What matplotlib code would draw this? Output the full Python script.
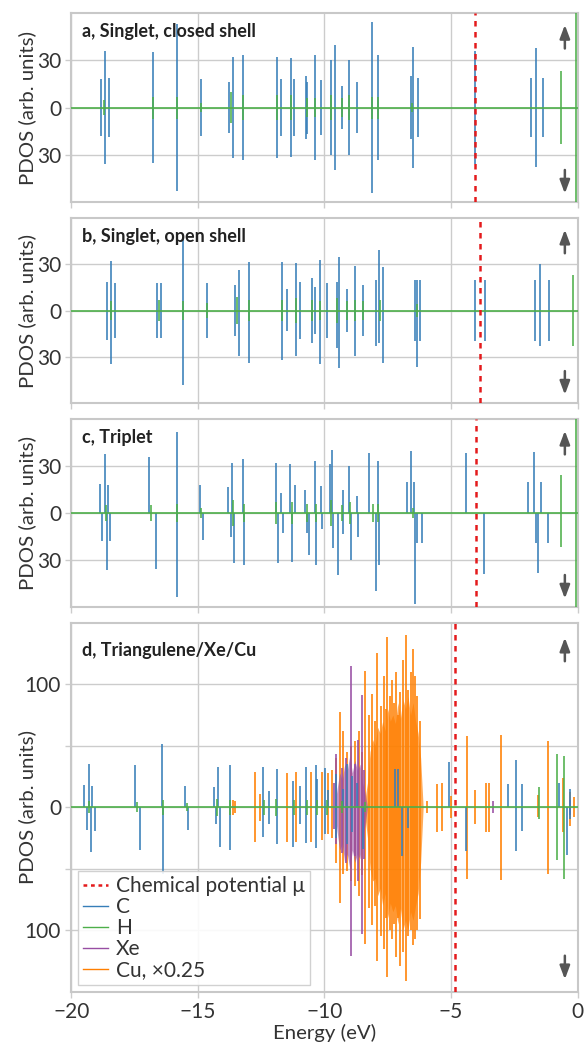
import numpy as np
import matplotlib.pyplot as plt

plt.rcParams['font.family'] = ['Lato', 'DejaVu Sans']
plt.rcParams['axes.unicode_minus'] = True

BLUE = '#377eb8'
GREEN = '#4daf4a'
PURPLE = '#984ea3'
ORANGE = '#ff7f00'
RED = '#e41a1c'
GRID = '#cccccc'
TXT = '#333333'

# chemical potentials (eV)
mu = [-4.05, -3.87, -4.02, -4.84]

# ---- a, singlet closed shell (spin up = spin down)
a_C_E = [-18.83, -18.68, -18.53, -16.79, -15.83, -14.88, -13.76, -13.62, -13.22, -11.89,
         -11.73, -11.34, -11.19, -10.73, -10.68, -10.36, -10.15, -9.76, -9.60, -9.30,
         -9.02, -8.73, -8.11, -7.87, -6.58, -6.52, -6.29, -4.05, -1.85, -1.65, -1.35]
a_C_h = [18, 36, 18.5, 35, 53, 18, 16, 32, 33.5, 32,
         18, 31.5, 18, 20, 16.5, 33.5, 17.5, 30, 39.5, 13.5,
         30, 16, 54, 33.5, 20, 38.5, 19, 36, 19, 38, 19]
a_H_E = [-18.7, -16.79, -15.83, -14.88, -13.68, -13.22, -11.89, -11.34, -10.7, -10.36,
         -9.76, -9.3, -9.02, -8.11, -7.87, -6.55, -0.65, -0.06]
a_H_h = [5, 7, 7, 3, 10, 8, 8, 8, 6, 6, 8, 6, 8, 7, 7, 3, 23, 75]

# ---- b, singlet open shell
b_C_E = [-18.59, -18.43, -18.29, -16.64, -16.46, -15.61, -14.63, -13.54, -13.39, -12.98,
         -11.68, -11.49, -11.12, -10.97, -10.49, -10.37, -10.17, -9.90, -9.52, -9.41,
         -9.10, -8.81, -8.48, -7.97, -7.86, -7.68, -6.43, -6.36, -6.22, -4.05,
         -3.65, -1.68, -1.49, -1.13]
b_C_up = [18.5, 32, 18, 18, 18, 46.5, 18, 16.5, 26, 31.5,
          31.5, 14, 31, 18.5, 21, 15.5, 33, 18, 18.5, 35,
          14, 29, 16.5, 19.5, 39, 28, 19.5, 19.5, 19.5, 19.5,
          19.5, 19.5, 30, 19.5]
b_C_dn = [19, 35, 18, 18, 18, 48, 18, 16.5, 29.5, 34,
          32, 13.5, 29.5, 18.5, 21, 15.5, 34.5, 18, 24, 37.5,
          14, 29.5, 16.5, 23, 21, 34, 19.5, 36.5, 19.5, 20,
          19.5, 19.5, 23, 19.5]
b_H_E = [-18.43, -16.55, -15.61, -14.63, -13.45, -12.98, -11.68, -11.12, -10.49, -10.17,
         -9.52, -9.10, -8.81, -8.48, -7.80, -6.35, -0.17]
b_H_h = [6, 7, 6, 5, 9, 7, 7, 8, 7, 6, 8, 6, 7, 6, 7, 4, 23]

# ---- c, triplet
c_C_upE = [-18.89, -18.69, -18.57, -16.92, -15.84, -14.93, -13.80, -13.64, -13.23, -11.93,
           -11.73, -11.36, -11.17, -10.77, -10.38, -10.15, -9.78, -9.70, -9.28, -9.03,
           -8.70, -8.24, -7.90, -6.73, -6.59, -6.46, -4.41, -1.97, -1.72, -1.46]
c_C_up = [18.5, 37.5, 18, 35.5, 52, 18, 16.5, 32, 34.5, 32,
          13, 31.5, 18, 14.5, 33.5, 17.5, 31, 40, 14.5, 30,
          11, 38.5, 33.5, 19.5, 39.5, 19.5, 38.5, 19.5, 39, 19.5]
c_C_dnE = [-18.78, -18.61, -18.47, -16.67, -15.82, -14.82, -13.71, -13.56, -13.18, -11.85,
           -11.65, -11.27, -10.69, -10.63, -10.32, -10.11, -9.65, -9.48, -9.26, -8.97,
           -8.69, -7.96, -7.86, -6.42, -6.36, -6.13, -3.70, -1.64, -1.57, -1.15]
c_C_dn = [18, 36.5, 18, 35.5, 53.5, 17, 15, 32, 33.5, 32,
          12.5, 31, 13, 26.5, 33.5, 10.5, 22.5, 39.5, 13.5, 30,
          15, 50, 33, 58, 19, 19, 39, 19, 38.5, 19]
c_H_E = [-18.65, -16.85, -15.83, -14.88, -13.6, -13.2, -11.9, -11.3, -10.7, -10.35,
         -9.75, -9.3, -9.0, -8.1, -7.9, -6.5, -0.65, -0.06]
c_H_up = [5, 5, 6, 3, 8, 6, 7, 7, 6, 6, 8, 5, 7, 6, 6, 3, 24, 75]
c_H_dn = [5, 5, 6, 3, 8, 6, 7, 7, 6, 6, 8, 5, 7, 6, 6, 3, 22, 75]

# ---- d, triangulene/Xe/Cu
d_C_upE = [-19.49, -19.30, -19.20, -17.50, -16.42, -15.50, -14.37, -14.22, -13.75, -12.42,
           -12.21, -11.87, -11.24, -10.97, -10.73, -10.35, -10.28, -9.98, -9.86, -9.55,
           -9.27, -9.10, -8.90, -8.72, -7.22, -7.10, -5.08, -2.74, -2.45, -2.20,
           -0.75, -0.30]
d_C_up = [18, 35.5, 17.5, 34.5, 51, 17.5, 16, 32.5, 34, 32.5,
          13.5, 31, 21.5, 17.5, 33, 34.5, 23, 32, 14, 27,
          15, 35, 25, 20, 31, 31, 37, 19, 38, 19,
          20, 15]
d_C_dnE = [-19.37, -19.23, -19.07, -17.28, -16.38, -15.38, -14.28, -14.13, -13.75, -12.42,
           -12.21, -11.87, -11.24, -10.97, -10.73, -10.35, -9.98, -9.55, -9.10, -8.90,
           -8.48, -6.95, -6.70, -4.40, -2.45, -2.20, -0.43, -0.30]
d_C_dn = [18.5, 36.5, 19, 35, 54, 18.5, 13.5, 32, 35, 24,
          13.5, 30, 32, 13.5, 29, 33, 22, 25, 30, 20,
          34, 40, 17, 36, 36, 19, 39, 10]
d_H_E = [-19.3, -17.4, -16.4, -15.45, -14.25, -13.75, -12.4, -11.9, -11.2, -10.7,
         -10.3, -9.9, -9.3, -8.4, -1.52, -0.82, -0.55]
d_H_up = [5, 4, 6, 3, 7, 6, 6, 7, 6, 6, 6, 6, 5, 4, 16, 43, 42]
d_H_dn = [5, 4, 6, 3, 7, 6, 6, 7, 6, 6, 6, 6, 5, 4, 10, 43, 58]
d_Xe_E = [-9.62, -9.55, -9.32, -9.15, -8.95, -8.81, -8.68, -8.50, -8.43, -3.35, -0.30]
d_Xe_up = [20, 43, 32, 40, 115, 35, 55, 91, 30, 5, 6]
d_Xe_dn = [18, 30, 37, 45, 121, 40, 60, 103, 42, 5, 6]
d_Xe_fillE = [-9.6, -9.5, -9.4, -9.3, -9.2, -9.1, -9.0, -8.9, -8.8, -8.7, -8.6, -8.5, -8.4, -8.3]
d_Xe_fillup = [0, 15, 28, 22, 35, 30, 42, 28, 38, 30, 35, 20, 12, 0]
d_Xe_filldn = [0, 20, 35, 30, 45, 38, 50, 35, 45, 38, 42, 25, 15, 0]
d_Cu_E = [-13.62, -13.55, -12.75, -12.55, -11.50, -11.14, -10.55, -10.11, -9.88, -9.72,
          -9.55, -9.39, -9.25, -9.10, -8.95, -8.80, -8.65, -8.52, -8.39, -8.25,
          -8.12, -8.02, -7.92, -7.78, -7.65, -7.58, -7.51, -7.42, -7.35, -7.25,
          -7.18, -7.08, -7.00, -6.90, -6.76, -6.68, -6.60, -6.52, -6.43, -6.35,
          -6.24, -5.93, -5.55, -5.36, -5.00, -4.35, -4.05, -3.62, -3.50, -3.03,
          -1.55, -1.15, -0.56, -0.30, -0.12]
d_Cu_up = [6, 5, 28.5, 11, 27.5, 28.5, 28.5, 28.5, 28, 30,
           40, 77, 62, 45, 50, 54, 62, 45, 111, 75,
           92, 70, 125, 82, 107, 80, 138, 90, 103, 85,
           110, 75, 94, 120, 140, 95, 110, 129, 107, 90,
           70, 5, 19, 20, 9, 58, 14, 20, 20, 59,
           10, 54, 24, 12, 8]
d_Cu_dn = [6, 5, 28.5, 11, 28, 28.5, 28.5, 27, 22, 25,
           45, 78, 54, 52, 60, 64, 72, 55, 111, 82,
           96, 80, 125, 105, 115, 90, 138, 100, 107, 95,
           122, 90, 129, 118, 141, 105, 100, 112, 107, 100,
           91, 5, 20, 19, 9, 58, 14, 20, 20, 59,
           8, 54, 20, 15, 8]
d_Cu_fillE = [-8.45, -8.3, -8.2, -8.1, -8.0, -7.9, -7.8, -7.7, -7.6, -7.5, -7.4, -7.3,
              -7.2, -7.1, -7.0, -6.9, -6.8, -6.7, -6.6, -6.5, -6.4, -6.3, -6.2, -6.1]
d_Cu_fillup = [0, 20, 45, 55, 50, 65, 60, 70, 62, 80, 70, 75,
               68, 85, 72, 88, 80, 90, 75, 85, 70, 60, 40, 0]
d_Cu_filldn = [0, 25, 50, 60, 58, 72, 66, 80, 70, 90, 78, 85,
               80, 95, 82, 100, 92, 100, 85, 92, 80, 70, 45, 0]

titles = ['a, Singlet, closed shell', 'b, Singlet, open shell', 'c, Triplet',
          'd, Triangulene/Xe/Cu']


def spikes(ax, Eu, hu, Ed, hd, color, z, label=None):
    ax.vlines(Eu, 0, hu, color=color, lw=1.15, zorder=z, label=label)
    ax.vlines(Ed, -np.asarray(hd, float), 0, color=color, lw=1.15, zorder=z)


def style(ax, lim, ticks, labels):
    ax.set_xlim(-20, 0)
    ax.set_ylim(-lim, lim)
    ax.set_xticks([-20, -15, -10, -5, 0])
    ax.set_yticks(ticks)
    ax.set_yticklabels(labels)
    ax.grid(True, color=GRID, lw=1.0)
    ax.set_axisbelow(True)
    for s in ax.spines.values():
        s.set_color('#c8c8c8')
        s.set_linewidth(1.5)
    ax.tick_params(color=GRID, length=4, width=1.0, labelcolor=TXT, labelsize=15)
    ax.set_ylabel('PDOS (arb. units)', color=TXT, fontsize=14.7)
    ax.yaxis.set_label_coords(-0.07, 0.5)


def arrows(ax, top, bot):
    ap = dict(arrowstyle='-|>,head_width=0.3,head_length=0.8', color='#555555', lw=1.8)
    ax.annotate('', xy=(0.975, top), xycoords='axes fraction',
                xytext=(0, -21), textcoords='offset points', arrowprops=ap)
    ax.annotate('', xy=(0.975, bot), xycoords='axes fraction',
                xytext=(0, 21), textcoords='offset points', arrowprops=ap)


fig = plt.figure(figsize=(5.86, 10.43), dpi=100)
L, W = 0.122, 0.8635
ax_a = fig.add_axes([L, 0.8063, W, 0.1812])
ax_b = fig.add_axes([L, 0.6136, W, 0.1774])
ax_c = fig.add_axes([L, 0.4180, W, 0.1803])
ax_d = fig.add_axes([L, 0.0492, W, 0.3538])
axes = [ax_a, ax_b, ax_c, ax_d]

# a
spikes(ax_a, a_C_E, a_C_h, a_C_E, a_C_h, BLUE, 3)
spikes(ax_a, a_H_E, a_H_h, a_H_E, a_H_h, GREEN, 4)
# b
spikes(ax_b, b_C_E, b_C_up, b_C_E, b_C_dn, BLUE, 3)
spikes(ax_b, b_H_E, b_H_h, b_H_E, b_H_h, GREEN, 4)
# c
spikes(ax_c, c_C_upE, c_C_up, c_C_dnE, c_C_dn, BLUE, 3)
spikes(ax_c, c_H_E, c_H_up, c_H_E, c_H_dn, GREEN, 4)
# d
ax_d.fill_between(d_Cu_fillE, -np.array(d_Cu_filldn), d_Cu_fillup,
                  color=ORANGE, alpha=0.65, lw=0, zorder=1)
spikes(ax_d, d_Cu_E, d_Cu_up, d_Cu_E, d_Cu_dn, ORANGE, 2)
ax_d.fill_between(d_Xe_fillE, -np.array(d_Xe_filldn), d_Xe_fillup,
                  color=PURPLE, alpha=0.6, lw=0, zorder=2.5)
spikes(ax_d, d_Xe_E, d_Xe_up, d_Xe_E, d_Xe_dn, PURPLE, 2.6)
spikes(ax_d, d_C_upE, d_C_up, d_C_dnE, d_C_dn, BLUE, 3)
spikes(ax_d, d_H_E, d_H_up, d_H_E, d_H_dn, GREEN, 4)

for i, ax in enumerate(axes):
    ax.axhline(0, color=GREEN, lw=1.2, zorder=4)
    ax.axvline(mu[i], color=RED, ls=(0, (2.2, 2.2)), lw=1.8, zorder=6)
    ax.text(0.02, 0.948, titles[i], transform=ax.transAxes, ha='left', va='top',
            fontsize=13, fontweight='bold', color='#222222', zorder=7)
    if i < 3:
        style(ax, 60, [-30, 0, 30], ['30', '0', '30'])
        ax.tick_params(labelbottom=False)
        arrows(ax, 0.952, 0.03)
    else:
        style(ax, 150, [-100, -50, 0, 50, 100], ['100', '', '0', '', '100'])
        arrows(ax, 0.967, 0.026)

ax_d.text(0.02, 0.974, '', transform=ax_d.transAxes)
ax_d.set_xlabel('Energy (eV)', color=TXT, fontsize=14.7, labelpad=1)

h_mu, = ax_d.plot([], [], color=RED, ls=(0, (1.5, 1.5)), lw=1.8)
h_c, = ax_d.plot([], [], color=BLUE, lw=1.0)
h_h, = ax_d.plot([], [], color=GREEN, lw=1.0)
h_xe, = ax_d.plot([], [], color=PURPLE, lw=1.0)
h_cu, = ax_d.plot([], [], color=ORANGE, lw=1.0)
leg = ax_d.legend([h_mu, h_c, h_h, h_xe, h_cu],
                  ['Chemical potential \u03bc', 'C', 'H', 'Xe', 'Cu, \u00d70.25'],
                  loc='lower left', fontsize=15, frameon=True, fancybox=False,
                  edgecolor='#cccccc', framealpha=0.9, handlelength=1.2,
                  handletextpad=0.4, labelspacing=0.05, borderpad=0.25,
                  borderaxespad=0.3)
leg.set_zorder(10)
for t in leg.get_texts():
    t.set_color(TXT)

fig.savefig('out.png', dpi=100, facecolor='white')
